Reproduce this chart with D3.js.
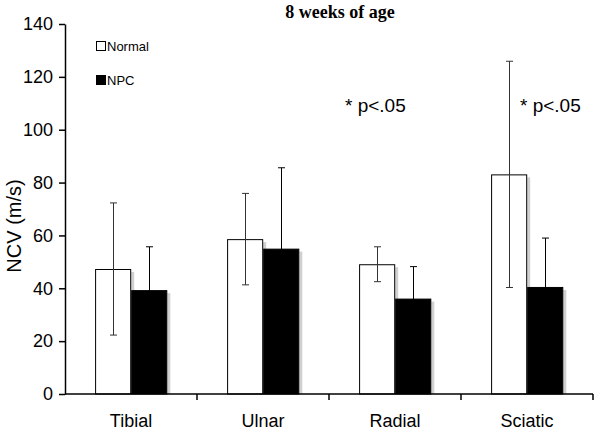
<!DOCTYPE html>
<html><head><meta charset="utf-8">
<script src="https://cdn.jsdelivr.net/npm/d3@7"></script>
<style>body{margin:0;background:#fff}svg{display:block}</style>
</head><body>
<svg id="c" width="600" height="432"></svg>
<script>
const categories = ["Tibial", "Ulnar", "Radial", "Sciatic"];
const series = ["Normal", "NPC"];
const normalMean = [47.3, 58.6, 49.1, 83.1];
const normalSD = [25.0, 17.3, 6.6, 42.8];
const npcMean = [39.3, 55.0, 36.1, 40.5];
const npcSD = [16.4, 30.6, 12.1, 18.5];
const yTicks = [0, 20, 40, 60, 80, 100, 120, 140];
const annotations = [{cat: "Radial", text: "* p<.05"}, {cat: "Sciatic", text: "* p<.05"}];

const svg = d3.select("#c");
const x = d3.scaleBand().domain(categories).range([65, 593]).paddingInner(0).paddingOuter(0);
const inner = d3.scaleBand().domain(series).range([x.bandwidth()*0.228, x.bandwidth()*0.775]).padding(0);
const y = d3.scaleLinear().domain([0, 140]).range([394, 24]);
const fills = {Normal: "#fff", NPC: "#000"};
const errColor = {Normal: "#333", NPC: "#000"};

const data = [];
categories.forEach((c, i) => {
  data.push({cat: c, s: "Normal", m: normalMean[i], sd: normalSD[i]});
  data.push({cat: c, s: "NPC", m: npcMean[i], sd: npcSD[i]});
});

// shadows
svg.append("g").selectAll("rect").data(data).join("rect")
  .attr("x", d => x(d.cat) + inner(d.s) + inner.bandwidth())
  .attr("y", d => y(d.m) + 3)
  .attr("width", 3)
  .attr("height", d => y(0) - y(d.m) - 3)
  .attr("fill", "#d0d0d0");

// bars
svg.append("g").selectAll("rect").data(data).join("rect")
  .attr("x", d => x(d.cat) + inner(d.s) + 0.5)
  .attr("y", d => y(d.m) + 0.5)
  .attr("width", inner.bandwidth() - 1)
  .attr("height", d => y(0) - y(d.m) - 0.5)
  .attr("fill", d => fills[d.s])
  .attr("stroke", "#000").attr("stroke-width", 1);

// error bars
const eg = svg.append("g").attr("stroke-width", 1);
data.forEach(d => {
  const cx = Math.round(x(d.cat) + inner(d.s) + inner.bandwidth()/2) + 0.5;
  const yt = y(d.m + d.sd), yb = y(Math.max(0, d.m - d.sd));
  const g = eg.append("g").attr("stroke", errColor[d.s]);
  g.append("line").attr("x1", cx).attr("x2", cx).attr("y1", yt).attr("y2", yb);
  g.append("line").attr("x1", cx - 3.5).attr("x2", cx + 3.5).attr("y1", yt).attr("y2", yt);
  g.append("line").attr("x1", cx - 3.5).attr("x2", cx + 3.5).attr("y1", yb).attr("y2", yb);
});

// y axis
const yAxis = d3.axisLeft(y).tickValues(yTicks).tickSize(6).tickSizeOuter(0).tickPadding(6);
const ya = svg.append("g").attr("transform", "translate(65,0)").call(yAxis);
ya.selectAll("path, line").attr("stroke", "#000").attr("stroke-width", 1.5);
ya.selectAll("text").attr("font-family", "Liberation Sans, Arial, sans-serif").attr("font-size", 18).attr("fill", "#000");

// x axis
const xa = svg.append("g").attr("transform", "translate(0,394)");
xa.append("line").attr("x1", 65).attr("x2", 593).attr("stroke", "#000").attr("stroke-width", 1.5);
const bounds = categories.map(c => x(c) + x.bandwidth());
xa.selectAll("line.t").data(bounds).join("line").attr("class", "t")
  .attr("x1", d => d).attr("x2", d => d).attr("y1", 0).attr("y2", 6)
  .attr("stroke", "#000").attr("stroke-width", 1.5);
xa.selectAll("text").data(categories).join("text")
  .attr("x", d => x(d) + x.bandwidth()/2).attr("y", 33)
  .attr("text-anchor", "middle")
  .attr("font-family", "Liberation Sans, Arial, sans-serif").attr("font-size", 18)
  .text(d => d);

// y label
svg.append("text").attr("transform", "translate(21,226) rotate(-90)")
  .attr("text-anchor", "middle")
  .attr("font-family", "Liberation Sans, Arial, sans-serif").attr("font-size", 20)
  .text("NCV (m/s)");

// title
svg.append("text").attr("x", 340).attr("y", 18).attr("text-anchor", "middle")
  .attr("font-family", "Liberation Serif, Times New Roman, serif").attr("font-weight", "bold").attr("font-size", 18)
  .text("8 weeks of age");

// legend
const lg = svg.append("g");
series.forEach((s, i) => {
  const ly = 46 + i * 34;
  lg.append("rect").attr("x", 96.5).attr("y", ly - 4.5).attr("width", 9).attr("height", 9)
    .attr("fill", fills[s]).attr("stroke", "#000").attr("stroke-width", 1);
  lg.append("text").attr("x", 107).attr("y", ly + 5)
    .attr("font-family", "Liberation Sans, Arial, sans-serif").attr("font-size", 13)
    .text(s);
});

// annotations
svg.append("g").selectAll("text").data(annotations).join("text")
  .attr("x", d => x(d.cat) + x.bandwidth()/2 - 50 + (d.cat === "Sciatic" ? 43 : 0))
  .attr("y", 112)
  .attr("font-family", "Liberation Sans, Arial, sans-serif").attr("font-size", 19)
  .text(d => d.text);
</script>
</body></html>
